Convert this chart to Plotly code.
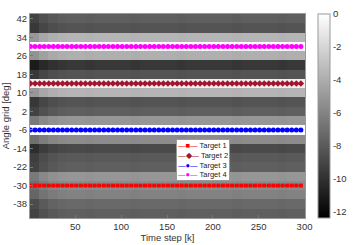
import numpy as np
import plotly.graph_objects as go

# ---- data ----
time_steps = list(range(1, 301))
angle_grid = list(range(-42, 43, 4))  # cell centres, deg
# per-row power level (dB), listed from -42 up to 42
row_db = [-7.8, -7.3, -6.1, -5.6, -5.1, -7.8, -8.0, -8.8, -5.6, -0.1,
          -5.1, -7.8, -8.3, -3.6, -0.8, -8.3, -9.7, -3.9, -0.1, -3.6,
          -8.3, -7.8]
# slow time-dependent gain (dB) per block of 10 steps
time_gain = [-1.4, -0.7, -0.3, -0.1, 0.0, 0.0, -0.1, 0.0, 0.0, 0.0,
             0.0, -0.1, 0.0, 0.0, 0.0, 0.0, -0.1, 0.0, 0.0, 0.0,
             0.0, 0.0, -0.1, 0.0, 0.0, 0.0, 0.0, -0.1, 0.0, 0.0]
target_names = ["Target 1", "Target 2", "Target 3", "Target 4"]
target_angles = [-30, 14, -6, 30]
marker_steps = list(range(1, 301, 5))

colors = ["#ff0000", "#a2142f", "#0000ff", "#ff00ff"]
symbols = ["square", "diamond", "circle", "circle"]
glyphs = ["\u25a0", "\u25c6", "\u25cf", "\u25cf"]
msizes = [4, 5, 5, 5]

XR = (0.5, 300.5)
YR = (-44, 44)

rows = np.array(row_db)
gain = np.repeat(np.array(time_gain), 10)
is_target_row = rows > -1.0
z = np.where(is_target_row[:, None], rows[:, None], rows[:, None] + gain[None, :])
z = np.minimum(z, 0)

fig = go.Figure()
fig.add_trace(go.Heatmap(
    x=time_steps, y=angle_grid, z=z,
    colorscale=[[0, "black"], [1, "white"]], zmin=-12.4, zmax=0,
    showscale=True,
    colorbar=dict(
        x=1.047, xanchor="left", xpad=0, y=0.5, yanchor="middle", len=1, lenmode="fraction",
        ypad=0, thickness=12, outlinecolor="#999", outlinewidth=1,
        tickvals=[0, -2, -4, -6, -8, -10, -12],
        ticktext=["0", "-2", "-4", "-6", "-8", "-10", "-12"],
        ticks="",
        tickfont=dict(size=9.5, color="#333", family="Liberation Sans"),
    ),
))
for name, ang, c, s, ms in zip(target_names, target_angles, colors, symbols, msizes):
    fig.add_trace(go.Scatter(
        x=marker_steps, y=[ang] * len(marker_steps), mode="lines+markers", name=name,
        line=dict(color=c, width=1), marker=dict(color=c, symbol=s, size=ms),
        showlegend=False,
    ))

# ---- compact legend as a boxed annotation ----
legend_lines = [
    f"<span style='color:{c}'>\u2014{g}\u2014</span> {n}"
    for n, c, g in zip(target_names, colors, glyphs)
]
fig.add_annotation(
    x=0.531, y=0.387, xref="paper", yref="paper", xanchor="left", yanchor="top",
    text="<br>".join(legend_lines), showarrow=False, align="left",
    bgcolor="white", bordercolor="#999", borderwidth=1, borderpad=1,
    font=dict(size=7.5, color="#222", family="Liberation Sans"),
)

ytick_vals = list(range(-38, 43, 8))
fig.update_layout(
    width=364, height=245,
    margin=dict(l=30, r=59, t=14, b=27, autoexpand=False),
    paper_bgcolor="white", plot_bgcolor="white",
    font=dict(family="Liberation Sans", size=9.5, color="#333"),
    showlegend=False,
    xaxis=dict(range=list(XR), tickvals=[50, 100, 150, 200, 250, 300], automargin=False,
               ticks="inside", ticklen=3, tickcolor="#777",
               showline=True, linecolor="#999", mirror=True, showgrid=False, zeroline=False,
               title=dict(text="Time step [k]", standoff=1, font=dict(size=9.5))),
    yaxis=dict(range=list(YR), tickvals=ytick_vals, ticktext=[str(v) for v in ytick_vals],
               automargin=False,
               ticks="inside", ticklen=3, tickcolor="#777",
               showline=True, linecolor="#999", mirror=True, showgrid=False, zeroline=False,
               title=dict(text="Angle grid [deg]", standoff=2, font=dict(size=9.5))),
)
fig.write_html("out.html", config={"displayModeBar": False},
               post_script="document.body.style.margin='0';")
